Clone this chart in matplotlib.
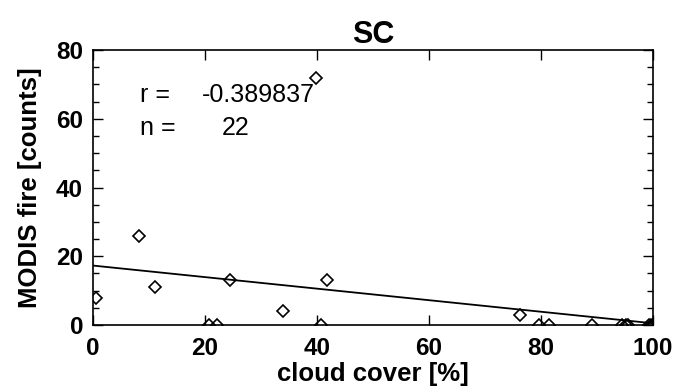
import numpy as np
import matplotlib.pyplot as plt
from matplotlib.ticker import MultipleLocator

plt.rcParams['font.family'] = ['Liberation Sans', 'DejaVu Sans']

# cloud cover [%] and MODIS fire counts
cloud = [0.5, 8.3, 11.2, 20.8, 22.2, 24.5, 33.9, 39.9, 40.7, 41.9, 76.2,
         79.6, 81.4, 89.1, 94.5, 95.1, 95.6, 99.3, 99.6, 100, 100, 100]
fire = [8, 26, 11, 0, 0, 13, 4, 72, 0, 13, 3,
        0, 0, 0, 0, 0, 0, 0, 0, 0, 0, 0]

# regression line as drawn in the figure
fit_intercept = 17.3
fit_slope = -0.168
r_value = -0.389837
n_value = 22

fig = plt.figure(figsize=(6.77, 3.91), dpi=100)
ax = fig.add_axes([0.137, 0.1688, 0.8275, 0.7032])

ax.plot(cloud, fire, 'D', mfc='none', mec='black', ms=6.5, mew=1.2)
xl = np.array([0, 100])
ax.plot(xl, fit_intercept + fit_slope * xl, color='black', lw=1.3)

ax.set_xlim(0, 100)
ax.set_ylim(0, 80)
ax.xaxis.set_major_locator(MultipleLocator(20))
ax.yaxis.set_major_locator(MultipleLocator(20))
ax.yaxis.set_minor_locator(MultipleLocator(5))
ax.tick_params(which='both', direction='in', top=True, right=True,
               labelsize=17.5, width=1)
ax.tick_params(which='major', length=7)
ax.tick_params(axis='x', which='major', pad=9)
ax.tick_params(axis='y', which='major', pad=7)
ax.tick_params(which='minor', length=4)
for lab in ax.get_xticklabels() + ax.get_yticklabels():
    lab.set_fontweight('bold')
for s in ax.spines.values():
    s.set_linewidth(1.2)

ax.set_title('SC', fontsize=22, fontweight='bold', pad=4)
ax.set_xlabel('cloud cover [%]', fontsize=18.5, fontweight='bold', labelpad=1)
ax.set_ylabel('MODIS fire [counts]', fontsize=18.5, fontweight='bold', labelpad=10)

ax.text(8.4, 64.8, 'r =', fontsize=18, va='baseline')
ax.text(19.4, 64.8, f'{r_value:.6f}', fontsize=18, va='baseline')
ax.text(8.4, 55.4, 'n =', fontsize=18, va='baseline')
ax.text(23.1, 55.4, f'{n_value}', fontsize=18, va='baseline')

fig.savefig('out.png', dpi=100)
